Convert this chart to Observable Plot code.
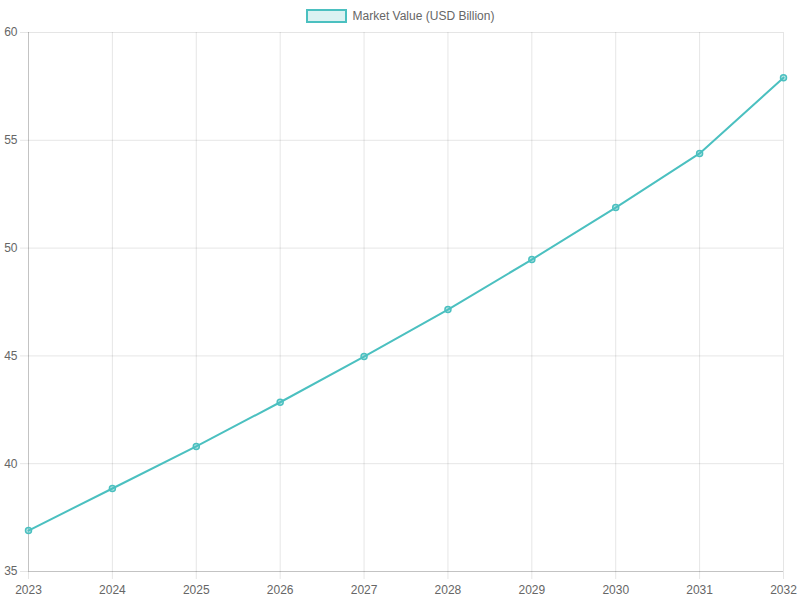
<!DOCTYPE html>
<html>
<head>
<meta charset="utf-8">
<script src="https://cdn.jsdelivr.net/npm/d3@7"></script>
<script src="https://cdn.jsdelivr.net/npm/@observablehq/plot@0.6"></script>
<style>
  html, body { margin: 0; padding: 0; background: #fff; }
  body { width: 800px; height: 600px; overflow: hidden; font-family: "Liberation Sans", Arial, Helvetica, sans-serif; }
  #legend { height: 26px; display: flex; justify-content: center; align-items: center; font-size: 12px; color: #666; padding-top: 6px; box-sizing: border-box; }
  #legend .box { width: 37px; height: 10px; border: 2px solid rgb(75,192,192); background: rgba(75,192,192,0.2); margin-right: 6px; }
  #chart svg { display: block; }
</style>
</head>
<body>
<div id="legend"><span class="box"></span><span class="lbl"></span></div>
<div id="chart"></div>
<script>
const years = [2023, 2024, 2025, 2026, 2027, 2028, 2029, 2030, 2031, 2032];
const values = [36.9, 38.85, 40.8, 42.85, 44.97, 47.15, 49.47, 51.88, 54.39, 57.9];
const yTicks = [35, 40, 45, 50, 55, 60];
const seriesName = "Market Value (USD Billion)";

document.querySelector("#legend .lbl").textContent = seriesName;

const data = years.map((year, i) => ({ year, value: values[i] }));
const teal = "rgb(75,192,192)";
const grid = "rgba(0,0,0,0.1)";

const chart = Plot.plot({
  width: 800,
  height: 574,
  marginTop: 6,
  marginBottom: 29,
  marginLeft: 28,
  marginRight: 17,
  style: { fontFamily: "Liberation Sans, Arial, Helvetica, sans-serif", fontSize: "12px", color: "#666", background: "#fff" },
  x: { type: "linear", domain: [2023, 2032], label: null },
  y: { domain: [35, 60], label: null },
  marks: [
    Plot.gridX(years, { stroke: grid, strokeOpacity: 1 }),
    Plot.gridY(yTicks, { stroke: grid, strokeOpacity: 1 }),
    Plot.axisX(years, { tickFormat: d3.format("d"), tickSize: 8, tickPadding: 6, stroke: grid, fill: "#666", fontSize: 12, label: null }),
    Plot.axisY(yTicks, { tickSize: 8, tickPadding: 3, stroke: grid, fill: "#666", fontSize: 12, label: null }),
    Plot.ruleX([2023], { stroke: "rgba(0,0,0,0.15)" }),
    Plot.ruleY([35], { stroke: "rgba(0,0,0,0.15)" }),
    Plot.line(data, { x: "year", y: "value", stroke: teal, strokeWidth: 2 }),
    Plot.dot(data, { x: "year", y: "value", r: 3, stroke: teal, strokeWidth: 1.5, fill: "rgba(75,192,192,0.4)" })
  ]
});
document.getElementById("chart").appendChild(chart);
</script>
</body>
</html>
